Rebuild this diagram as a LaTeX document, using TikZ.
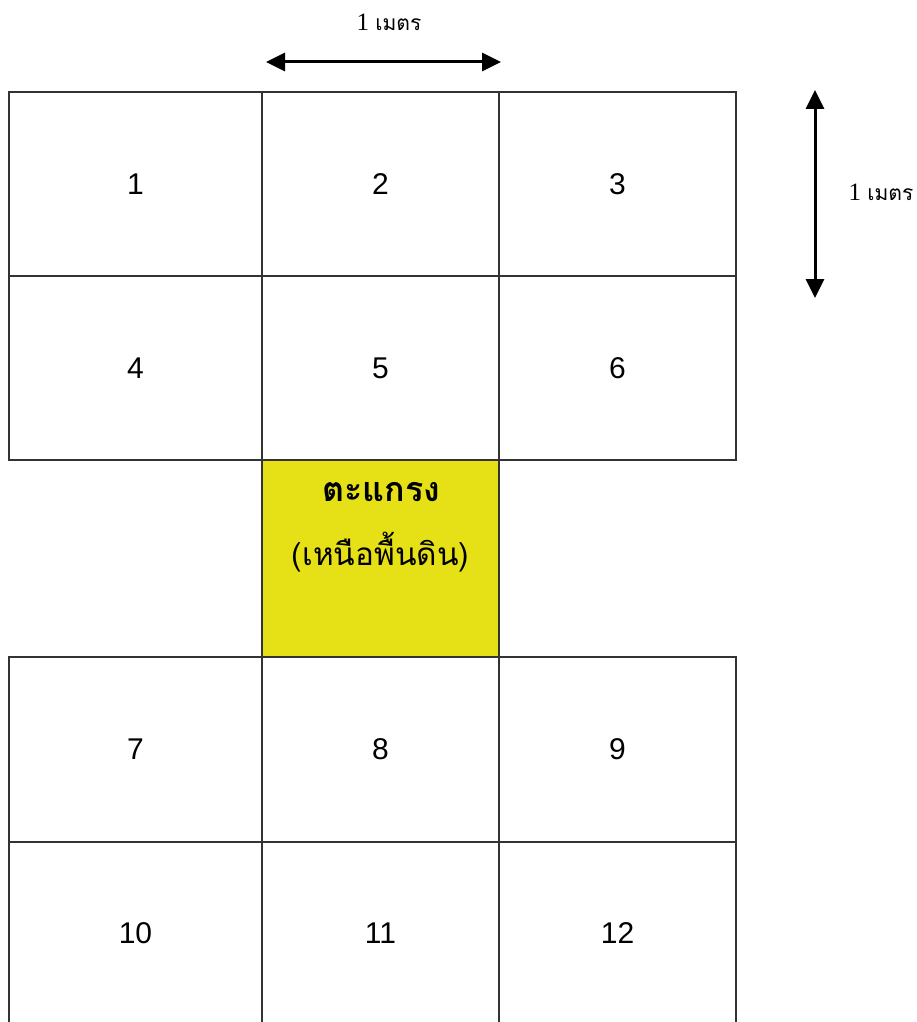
\documentclass[tikz,border=0pt]{standalone}
\usepackage{fontspec}
\setmainfont{Liberation Sans}
\newfontfamily\thaifont[Script=Thai]{Loma}
\newfontfamily\serifnum{Liberation Serif}
\usetikzlibrary{arrows.meta}
\definecolor{gridline}{HTML}{333333}
\definecolor{grate}{HTML}{E6E116}
\tikzset{
  plot/.style={draw=gridline, line width=1.3pt},
  num/.style={font=\fontsize{30}{34}\selectfont, inner sep=0pt},
  dim/.style={line width=3pt, {Triangle[length=19pt,width=18pt]}-{Triangle[length=19pt,width=18pt]}},
  dimlabel/.style={inner sep=0pt},
}
\newcommand{\meter}{{\serifnum\fontsize{25}{28}\selectfont 1\ }{\thaifont\fontsize{21}{24}\selectfont เมตร}}
\begin{document}
\begin{tikzpicture}[x=1pt,y=-1pt]
  \useasboundingbox (0,0) rectangle (917,1022);
  % grating plot (above ground)
  \fill[grate] (262,460) rectangle (499,657);
  % upper block of plots 1-6
  \draw[plot] (9,92) rectangle (736,460);
  \draw[plot] (9,276) -- (736,276);
  \draw[plot] (262,92) -- (262,1030);
  \draw[plot] (499,92) -- (499,1030);
  % lower block of plots 7-12 (runs past the bottom edge)
  \draw[plot] (9,1030) -- (9,657) -- (736,657) -- (736,1030);
  \draw[plot] (9,842) -- (736,842);
  % plot numbers
  \node[num] (n1) at (135.5,184) {1};
  \node[num] (n2) at (380.5,184) {2};
  \node[num] (n3) at (617.5,184) {3};
  \node[num] (n4) at (135.5,368) {4};
  \node[num] (n5) at (380.5,368) {5};
  \node[num] (n6) at (617.5,368) {6};
  \node[num] (n7) at (135.5,749) {7};
  \node[num] (n8) at (380.5,749) {8};
  \node[num] (n9) at (617.5,749) {9};
  \node[num] (n10) at (135.5,933) {10};
  \node[num] (n11) at (380.5,933) {11};
  \node[num] (n12) at (617.5,933) {12};
  % grating label
  \node[inner sep=0pt] (g1) at (381.5,492) {\thaifont\bfseries\fontsize{34}{38}\selectfont ตะแกรง};
  \node[inner sep=0pt] (g2) at (380.5,552) {\thaifont\fontsize{31.5}{36}\selectfont (เหนือพื้นดิน)};
  % dimension arrows
  \coordinate (hl) at (266,62);
  \coordinate (hr) at (501,62);
  \draw[dim] (hl) -- (hr);
  \node[dimlabel] (hlab) at (389,22) {\meter};
  \coordinate (vt) at (815,90);
  \coordinate (vb) at (815,298);
  \draw[dim] (vt) -- (vb);
  \node[dimlabel] (vlab) at (881,192) {\meter};
\end{tikzpicture}
\end{document}
